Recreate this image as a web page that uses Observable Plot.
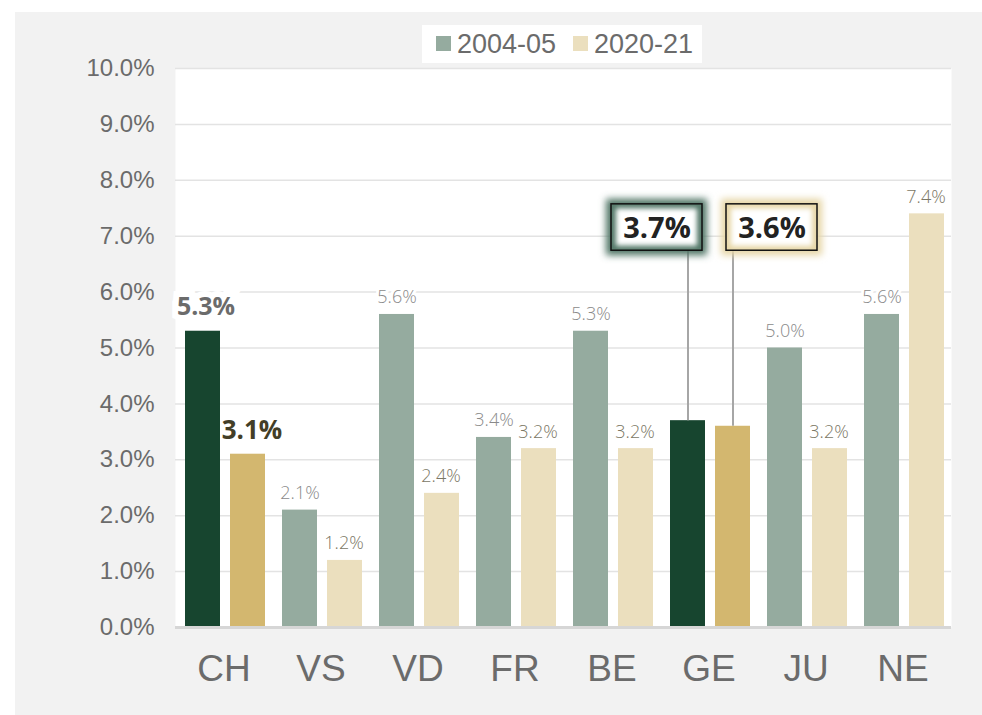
<!DOCTYPE html>
<html>
<head>
<meta charset="utf-8">
<script src="https://cdn.jsdelivr.net/npm/d3@7"></script>
<script src="https://cdn.jsdelivr.net/npm/@observablehq/plot@0.6"></script>
<style>
  html, body { margin: 0; padding: 0; background: #ffffff; }
  #wrap { position: absolute; left: 15px; top: 12px; width: 967px; height: 703px; background: #f2f2f2; overflow: hidden; }
  #legend { position: absolute; left: 407px; top: 13px; width: 280px; height: 38px; background: #ffffff;
            font-family: "Liberation Sans", Arial, sans-serif; font-size: 27px; color: #6b6b6b; }
  .item { position: absolute; top: 0; height: 38px; line-height: 38px; white-space: nowrap; }
  .sw { display: inline-block; width: 15px; height: 15px; vertical-align: middle; margin-right: 6px; position: relative; top: -2px; }
  #chart { position: absolute; left: 0; top: 0; }
</style>
</head>
<body>
<div id="wrap">
  <div id="chart"></div>
  <div id="legend"></div>
</div>
<script>
// ---- data ----
const cats = ["CH", "VS", "VD", "FR", "BE", "GE", "JU", "NE"];
const v2004 = [5.3, 2.1, 5.6, 3.4, 5.3, 3.7, 5.0, 5.6];
const v2020 = [3.1, 1.2, 2.4, 3.2, 3.2, 3.6, 3.2, 7.4];
const seriesNames = ["2004-05", "2020-21"];
const yTicks = [0, 1, 2, 3, 4, 5, 6, 7, 8, 9, 10];
const highlighted = ["CH", "GE"];
const boldCat = "CH";
const calloutCat = "GE";

// ---- styles / layout ----
const darkGreen = "#17452f", gold = "#d3b76f", lightGreen = "#95ab9f", beige = "#ebdfbe";
const glowGreen = "#4f7465", glowBeige = "#e6d6a6";
const grey = "#6b6b6b";
const boxY1 = 6.74, boxY2 = 7.57, boxMid = 7.14;

const fmt = v => v.toFixed(1) + "%";
const rows = cats.map((c, i) => ({cat: c, a: v2004[i], b: v2020[i]}));
const plain = rows.filter(d => d.cat !== boldCat && d.cat !== calloutCat);
const boldRow = rows.filter(d => d.cat === boldCat);
const callRow = rows.filter(d => d.cat === calloutCat);

// legend
const legend = document.getElementById("legend");
[[seriesNames[0], lightGreen, 14], [seriesNames[1], beige, 151]].forEach(([t, c, l]) => {
  const it = document.createElement("div");
  it.className = "item";
  it.style.left = l + "px";
  it.innerHTML = `<span class="sw" style="background:${c}"></span>${t}`;
  legend.appendChild(it);
});

const chart = Plot.plot({
  width: 967,
  height: 703,
  marginTop: 56,
  marginBottom: 88,
  marginLeft: 160,
  marginRight: 31,
  style: {background: "transparent", fontFamily: "Liberation Sans, Arial, sans-serif", overflow: "visible"},
  x: {domain: cats, padding: 0},
  y: {domain: [0, 10]},
  color: {type: "identity"},
  marks: [
    Plot.frame({fill: "white", stroke: null}),
    Plot.ruleY(yTicks.filter(t => t > 0), {stroke: "#e3e3e3", strokeWidth: 1.5}),
    Plot.axisY(yTicks, {tickSize: 0, tickPadding: 21, tickFormat: fmt, fontSize: 24, fill: grey, label: null}),
    Plot.axisX(cats, {tickSize: 0, tickPadding: 27, fontSize: 37, fill: grey, label: null}),
    Plot.barY(rows, {x: "cat", y: "a", fill: d => highlighted.includes(d.cat) ? darkGreen : lightGreen, insetLeft: 10, insetRight: 52}),
    Plot.barY(rows, {x: "cat", y: "b", fill: d => highlighted.includes(d.cat) ? gold : beige, insetLeft: 55, insetRight: 7}),
    Plot.ruleY([0], {stroke: "#d6d6d6", strokeWidth: 3}),
    // plain value labels
    Plot.text(plain, {x: "cat", y: "a", text: d => fmt(d.a), dx: -21, dy: -11, lineAnchor: "bottom",
      fontSize: 18, fontWeight: 300, fontFamily: "Open Sans, sans-serif", fill: "#8a8a8a", stroke: "white", strokeWidth: 6}),
    Plot.text(plain, {x: "cat", y: "b", text: d => fmt(d.b), dx: 23, dy: -11, lineAnchor: "bottom",
      fontSize: 18, fontWeight: 300, fontFamily: "Open Sans, sans-serif", fill: "#7b7765", stroke: "white", strokeWidth: 6}),
    // bold CH labels
    Plot.text(boldRow, {x: "cat", y: "a", text: d => fmt(d.a), dx: -18, dy: -16, lineAnchor: "bottom",
      fontSize: 25, fontWeight: "bold", fontFamily: "Open Sans, sans-serif", fill: grey, stroke: "white", strokeWidth: 12, strokeLinejoin: "miter"}),
    Plot.text(boldRow, {x: "cat", y: "b", text: d => fmt(d.b), dx: 28, dy: -15, lineAnchor: "bottom",
      fontSize: 26, fontWeight: "bold", fontFamily: "Open Sans, sans-serif", fill: "#433e27"}),
    // GE callouts: leader lines
    Plot.ruleX(callRow, {x: "cat", y1: "a", y2: boxY1, dx: -21, stroke: "#a6a6a6", strokeWidth: 2}),
    Plot.ruleX(callRow, {x: "cat", y1: "b", y2: boxY1, dx: 24, stroke: "#a6a6a6", strokeWidth: 2}),
    // glows
    Plot.barY(callRow, {x: "cat", y1: boxY1 - 0.09, y2: boxY2 + 0.09, insetLeft: -54, insetRight: 50, fill: glowGreen, className: "glow"}),
    Plot.barY(callRow, {x: "cat", y1: boxY1 - 0.09, y2: boxY2 + 0.09, insetLeft: 61, insetRight: -65, fill: glowBeige, className: "glow"}),
    Plot.barY(callRow, {x: "cat", y1: boxY1 + 0.08, y2: boxY2 - 0.08, insetLeft: -44, insetRight: 60, fill: "white", className: "soft"}),
    Plot.barY(callRow, {x: "cat", y1: boxY1 + 0.08, y2: boxY2 - 0.08, insetLeft: 71, insetRight: -55, fill: "white", className: "soft"}),
    Plot.barY(callRow, {x: "cat", y1: boxY1, y2: boxY2, insetLeft: -49, insetRight: 55, fill: "none", stroke: "#111", strokeWidth: 1.5}),
    Plot.barY(callRow, {x: "cat", y1: boxY1, y2: boxY2, insetLeft: 66, insetRight: -60, fill: "none", stroke: "#111", strokeWidth: 1.5}),
    Plot.text(callRow, {x: "cat", y: boxMid, text: d => fmt(d.a), dx: -52, fontSize: 29, fontWeight: "bold",
      fontFamily: "Open Sans, sans-serif", fill: "#222"}),
    Plot.text(callRow, {x: "cat", y: boxMid, text: d => fmt(d.b), dx: 63, fontSize: 29, fontWeight: "bold",
      fontFamily: "Open Sans, sans-serif", fill: "#222"})
  ]
});

const svg = d3.select(chart);
const defs = svg.insert("defs", ":first-child");
defs.append("filter").attr("id", "glowblur").attr("x", "-50%").attr("y", "-50%").attr("width", "200%").attr("height", "200%")
  .append("feGaussianBlur").attr("stdDeviation", 3.5);
defs.append("filter").attr("id", "softblur").attr("x", "-50%").attr("y", "-50%").attr("width", "200%").attr("height", "200%")
  .append("feGaussianBlur").attr("stdDeviation", 2.5);
svg.selectAll("g.glow").attr("filter", "url(#glowblur)");
svg.selectAll("g.soft").attr("filter", "url(#softblur)");

document.getElementById("chart").appendChild(chart);
</script>
</body>
</html>
